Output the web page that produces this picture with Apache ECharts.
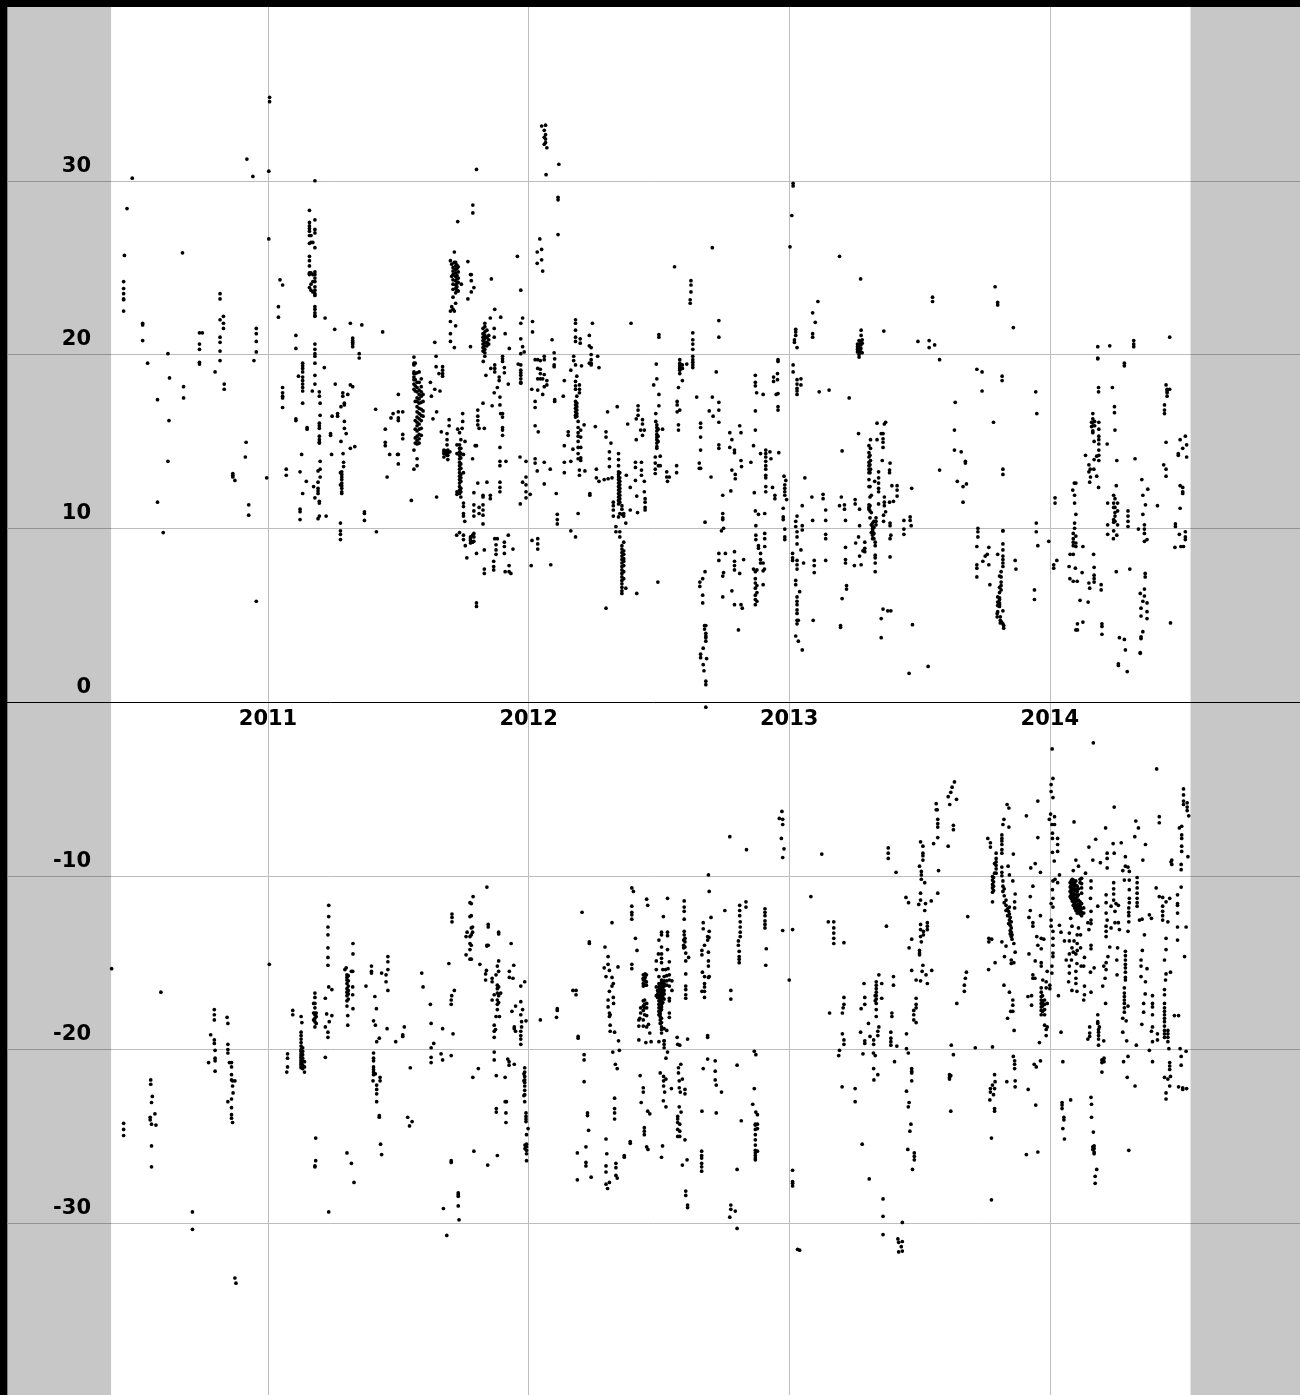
<!DOCTYPE html>
<html><head><meta charset="utf-8">
<style>html,body{margin:0;padding:0;background:#000;}#c{width:1300px;height:1395px;}</style>
<script src="https://cdn.jsdelivr.net/npm/echarts@6/dist/echarts.min.js"></script>
</head><body><div id="c"></div>
<script>
// Each row: [decimal year, value, value, ...].
var yearTicks = [2011, 2012, 2013, 2014];
var valueTicks = [-30, -20, -10, 0, 10, 20, 30];
var shadedSpans = [[2010, 2010.398], [2014.54, 2014.96]];

var upper2010 = [
[2010.479,30.15],[2010.459,28.4],[2010.449,25.7],[2010.446,24.2,23.8,23.5,23.2,23.15,22.5],
[2010.519,21.8,21.7,20.8],[2010.538,19.5],[2010.616,20.05,13.85],[2010.622,18.65],[2010.676,18.15,17.5],[2010.672,25.85],[2010.576,17.4,11.5],[2010.62,16.2],[2010.598,9.75],
[2010.737,21.25,20.6,20.3,19.55,19.45],[2010.748,21.25],
[2010.816,23.5,23.2,22,21,20.7,20.2,19.65],[2010.829,22.2,21.8,21.5],[2010.797,19],[2010.832,18.3,18],
[2010.955,21.5,21.2,20.75,20.15,5.8],[2010.946,19.65],[2010.919,31.25],[2010.942,30.25],
[2010.916,14.95],[2010.913,14.1],[2010.865,13.15,13.05,12.95],[2010.873,12.75],[2010.926,11.35,10.75],[2010.995,12.9]
];
var upper2011 = [
[2011.006,34.8,34.55],[2011.003,30.55,26.65],[2011.046,24.3],[2011.056,24,18.1,17.8,17.6,17.5,16.95],[2011.04,22.75,22.15],[2011.107,21.1,20.35,16.3,16.2],
[2011.159,28.3,27.6,27.4,27.25,27.1,26.85,26.4,25.65,25.4,25.1,24.7,24.65,24.6,23.85],[2011.18,30,27.75,27.2,27,26.15,24.75,24.6,24.4,24.2,23.9,23.7,23.5,23.4,22.75,22.6,22.4,22.25,22.2,20.6,20.3,20.05,19.9,19.5,18.8,18.3],
[2011.165,26.85,26.45,24.7,24.05,23.7],[2011.172,26.45,24.6,24.2,23.6],[2011.17,17.9],
[2011.219,22.1],[2011.256,21.45],[2011.316,21.8,18.25,14.6],[2011.36,21.7],[2011.44,21.3],[2011.325,20.95,20.8,20.7,20.6,20.45,18.15],[2011.35,20.05,19.8],[2011.216,19.25],
[2011.133,19.5,19.35,19.2,19,18.7,18.5,18.3,18.1,17.9,17.2,12],[2011.117,18.75],[2011.15,15.8,15.7],
[2011.197,17.85,17.6,16.05,15.9,15.75,15.3,15.1,14.95,14.9,11.55,11.45,10.7],[2011.2,17.2,16.5,13.85,13.4,12.95],[2011.192,13.3,12.65,12.3,12.15,12,10.55],[2011.175,12.4],[2011.18,11.75],
[2011.258,18.3],[2011.287,17.8,17.6],[2011.306,17.7],[2011.5,17.7,16.7,16.35,16.2,14.25,13.7],[2011.129,14.25],[2011.07,13.4,13.05],[2011.123,13.25,11.1,10.95,10.5],[2011.147,12.7],[2011.223,10.7],
[2011.246,16.45],[2011.267,16.6,16.45],[2011.28,17,15],[2011.293,17.2,17.1,16.15,15.75],[2011.3,15.45],[2011.24,15.45,15.35],[2011.333,14.7],[2011.244,14.25],[2011.288,14.3],[2011.29,13.8,13.55],
[2011.283,13.25,13.1,12.95,12.8,12.6,12.45,12.3,12.1,12],[2011.278,13.2,12.5,10.3,9.85,9.65,9.35],[2011.37,10.95,10.85,10.45],[2011.416,9.8],[2011.413,16.85],
[2011.45,15.7,14.95,14.75],[2011.467,14.25],[2011.497,14.25],[2011.457,12.95],[2011.472,16.35],[2011.48,16.6],[2011.517,16.7,15.4,15.15],[2011.55,11.6],
[2011.56,19.85,19.5,19.4,19,18.9,18.7,18.55,18.3,18,14.5,13.4],[2011.565,19.5,18.9,18.55,18.2,17.9,17.3,16.2,15.7,15.2,14.9],
[2011.572,18.95,18.4,18.1,17.85,17.5,17.3,17,16.7,16.4,16.1,15.9,15.6,15.3,15.05,14.85,14,13.6],
[2011.58,19,18.4,17.95,17.7,17.45,17.2,16.9,16.6,16.3,16,15.7,15.4,15.15,14.9],[2011.588,18.6,18.15,17.85,17.6,17.25,16.85,16.5,16.2,15.75,15.35],[2011.595,17.3,17.7,16.75,16.45],
[2011.645,19.9,19.3],[2011.67,19.3,19.1,18.9,18.75],[2011.656,18.9],[2011.623,18.4],[2011.64,20.7,18],[2011.66,17.9],[2011.627,17.6],[2011.647,16.7,11.8],[2011.633,16.3],[2011.665,15.55],
[2011.695,16.25,15.9],[2011.687,15.45,15.1,14.8,14.2],[2011.675,14.5,14.4,14.3,14.1],[2011.682,14.45,14.3],[2011.69,14.5,14.35,14.2,13.95],[2011.698,14.4],
[2011.728,27.65,15.7],[2011.715,25.9,25.3,22.5,20.4],[2011.7,25.4,22.5,21.9,21.2,20.75],[2011.705,25.2,24.5,22.75],[2011.71,25,24.8,24.6,24.3,24.05,23.75,23.3,22.6],
[2011.72,25.3,25.1,24.9,24.7,24.5,24.25,24,23.8,23.55,22.95,21.65],[2011.725,25.15,24.95,24.55,24.35,24.1,23.9,23.7],[2011.73,25.05,24.75,24.4,24.15,23.65],[2011.742,24.05],[2011.767,25.35,23.2],[2011.777,24.6,20.45,9.5,9.4,9.3,9.15],
[2011.747,16.6,16.15],[2011.745,15.75],[2011.735,15.5,14.8,14.6,14.4,14.2,14,13.8,13.6,13.4,13.2,13,12.8,12.6,12.4,12.2,12],[2011.74,15.1,14.6,14.3,14.05,13.7,13.45,13.1,12.9,12.7,12.3,12.1,11.8],[2011.725,14.8,14.3,12.1,11.95],[2011.75,14.25,13.2,11.25,11.45,10.85,10.7,9.6,9.35],[2011.756,15],[2011.755,10.4],[2011.724,9.6],[2011.735,9.75],[2011.757,9],[2011.763,8.3],
[2011.8,30.65,14.75,8.55,5.7,5.5],[2011.786,28.6,28.15],[2011.78,24.6,24.25,23.6],[2011.79,23.85,12.05,11.35,11,10.7,9.7,9.5,9.25],
[2011.857,24.35],[2011.87,22.6,19.4,9.4],[2011.853,22.1,11.9,11.7],[2011.893,22.15,16.6],[2011.91,21.2,7.5],[2011.926,20.35],[2011.957,25.65],[2011.97,23.7,21.8,20.9,20.05,19.4,19.1,18.95,18.8,18.6,18.4,18.35],[2011.977,22.1,20.45,12.65],[2011.983,20.15],[2011.96,19.45],
[2011.825,21.5,21.2,21,20.8,20.6,20.4,20.2,17.2,11.9,11.8,11.35,11.05,10.75,10.25],[2011.832,21.8,21.6,21.3,21.1,20.9,20.7,20.5,20.3,20.1,19.9],[2011.84,21.4,21,20.7,20.5,12.65],[2011.847,21.1,20.85,20.6],[2011.868,21.5,21,17.8],[2011.826,19.6],[2011.9,19.9,19.75,19.6],[2011.855,19.2],[2011.87,19,19.2],[2011.907,19.25,18.95,9.2,8.95,8.55],[2011.836,18.8],[2011.887,18.7,18.5],[2011.922,18.3,9.6],[2011.89,17.55,17.1,14.65,13.85,13.6,12.65,12.35,12.1],[2011.88,18.1,9.4],
[2011.86,17.05],[2011.805,16.8,16.45,16.2,15.95,12.6],[2011.81,15.75,11.2,10.85],[2011.83,15.75,8.75,7.65,7.4],[2011.9,16.6,16.4,15.8,15.65,15.35],[2011.795,14.75],[2011.913,13.85],[2011.785,14,9.6,9.2],[2011.967,14.1],[2011.99,12.95,12.5,12.1,11.75],[2011.968,11.4],[2011.875,9.05,8.75,8.5],[2011.94,8.8],[2011.866,8.1,7.8,7.6],[2011.925,7.85,7.5],[2011.932,7.4]
];
var upper2012 = [
[2012.05,33.15,26.05,25.45],[2012.065,33.2,32.65,32.4,32.2],[2012.06,32.9,32.5,32.1],[2012.07,31.9],[2012.116,30.95],[2012.067,30.35],[2012.113,29.05,28.9,26.9],[2012.043,26.65],[2012.033,25.9,25.25],[2012.054,24.8],
[2012.015,21.9,21.3],[2012.09,20.85],[2012.025,19.7,17.3,16.95,15.9,14,13.75],[2012.035,19.7,19.2,18.6,17.95,9.4,9.1,8.8],[2012.045,19.65,19.15,18.9,18.6],[2012.06,19.9,19.7,18.85,18.15,13.8,12.55],[2012.07,18.5,18.25],[2012.012,18],[2012.054,18.6,17.7],[2012.098,20.1,19.4,19.3],[2012.1,19.75,17.4,17.3],[2012.137,18.5],[2012.133,17.6],
[2012.18,22,21.8,21.4,21,20.75,19.4,18.45,18.2,18],[2012.198,20.9,20.65],[2012.245,21.8],[2012.233,21.1,20.5,19.5],[2012.24,20.4,20,19.7,19.5,19.4],[2012.173,19.9,19.65],[2012.203,19.35],[2012.162,19.1,13.85,9.85],[2012.185,18.75,17.6],[2012.195,18.25,18,17.8,13.35,13.05],[2012.265,19.9],[2012.27,19.25],
[2012.393,21.8],[2012.5,21.15,21,17.7,17.05],[2012.49,19.45],[2012.492,18.6],[2012.48,18.25],[2012.56,25.05],[2012.705,26.15,17.55],[2012.623,24.25,24,23.6],[2012.62,23.15,22.95],[2012.73,21.95,21,17.25,16.8,16.1,14.8,14.6,8.55,8.15],[2012.63,21.25,20.85,20.6,20.3,19.9,19.7,19.55,19.4,19.25],[2012.72,19],
[2012.58,19.7,19.5,19.4,19.3,19.2,19.1,18.9,16.8],[2012.59,19.4,19.2,18.5],[2012.607,19.45],[2012.575,18.1,15.95,15.65],[2012.645,17.55],
[2012.87,18.8,18.4,18.2,16.75,11,15.65],[2012.875,17.8],[2012.9,17.7],[2012.94,18.7,18.45],[2012.955,18.9,18.55],[2012.95,17.7],[2012.957,19.7,19.6,17.75,17,16.8],
[2011.99,13.85],[2012.037,15.55],[2012.033,13.3],[2012.083,13.4],[2012.106,12],[2012.006,11.95],[2012.11,10.8,10.5,10.25],[2012.19,10.85],[2012.18,9.5],[2012.235,12,11.9],[2012.013,9.3],[2012.01,7.85],[2012.085,7.9],
[2012.18,17.3,17.1,16.9,16.7,16.5,16.4],[2012.185,17.2,17,16.8,16.6,16.45],[2012.19,16.15,15.8,15.5,15.3,15,14.65,14.3,14],[2012.2,15.65,15.25,14.65,14.05,13.9],[2012.213,15.95],[2012.256,15.85],[2012.137,14.75,13.8,13.2],[2012.17,14.55],[2012.152,15.55,15.35],[2012.216,13.3],
[2012.303,16.7],[2012.34,17],[2012.297,15.55,15.25,5.4],[2012.316,14.9],[2012.31,14.4,14,13.55],[2012.26,13.4,12.9],[2012.27,12.7],[2012.29,12.8],[2012.305,12.85],[2012.32,12.9],[2012.325,11.5,11.3,11.05,10.7],
[2012.345,14.3,13.95,13.6,13.25,13.1,12.95,12.8,12.6,12.4,12.2,12,11.8,11.6,11.4,10.65],[2012.35,13.2,12.9,12.7,12.5,12.3,12.1,11.9,11.7,11.5,10.85,9.8,9.5],[2012.358,11.3,11.1,10.8,9,8.8,8.6,8.4,8.2,8,7.8,7.6,7.4,7.2,7,6.8,6.6,6.4,6.25],[2012.365,10.85,10.7,9.2,8.7,8.5,8.25,8.1,7.85,7.5,7.1],[2012.373,10.3,6.55],[2012.335,10.1,9.8],
[2012.38,16],[2012.375,13.05],[2012.39,12.35,11.05],[2012.41,13.8,13.5,12.75],[2012.433,13.8,13.35,13.05],[2012.444,12.7,12.1],[2012.415,11.85,6.25],[2012.447,11.7,11.5,11.2,11.05],[2012.418,10.9],[2012.496,6.9],
[2012.42,17.05,16.8,16.5],[2012.413,16.3,15.1],[2012.437,16.25,16,15.35],[2012.43,15.65],[2012.444,15.65],
[2012.488,16.6,16.15],[2012.492,15.95,15.8,15.6,15.4,15.25,15.1,14.9,14.7,14.6],[2012.497,15.7,15.3,15],[2012.514,15.7],[2012.505,14.15],[2012.486,14.1,13.75,13.4,13.15],[2012.505,13.6],[2012.498,13.6],[2012.53,13.25,12.95],[2012.533,12.7],[2012.54,12.95],[2012.568,13.6,13.2],[2012.57,17.3,17.1,16.7],
[2012.693,16.75],[2012.708,16.45],[2012.66,16.05,15.8,15.25,14.5],[2012.655,13.75,13.45],[2012.66,13.45],[2012.7,12.95],[2012.745,11.9,10.85,10.6,10.5,7.25,6.05],[2012.776,12.15],[2012.677,10.35,7.5],[2012.748,10,7.45],[2012.74,9.85],
[2012.81,15.9,7.4],[2012.815,15.5,13.9,5.6],[2012.772,15.5,14.65],[2012.78,15.1,13.35,6.4],[2012.79,14.5,14.35,8.65,8.1,7.85,7.6,5.6],[2012.793,13.1,12.85],[2012.817,13.55],[2012.853,13.8],[2012.863,14.75,7.65],
[2012.89,14.3,8.55,8.2,8],[2012.91,14.5,14.3,14.1,13.85,13.6,13.4,13.05,12.9,12.4,12.1],[2012.926,14.4],[2012.93,14],[2012.96,14.35],[2012.936,12.35],[2012.866,12.05],[2012.945,11.9,11.7],[2012.882,10.8,9,8.85],[2012.906,10.85,9.7,9.4,8.95],[2012.872,10.15,9.6,9.35],
[2012.98,13],[2012.987,12.75],[2012.983,12.5,12.3,12.1,11.9,9.95,9.5,9.35],[2012.99,11.65],[2012.977,11.15,10.65,10.5],
[2012.668,7.1,6.15,5.7],[2012.657,6.9,6.65],[2012.675,4.4,4.2],[2012.68,4.4,3.95,3.8,3.7,3.5,1.2,1],[2012.67,3.1,2.15],[2012.66,2.75,2.55],[2012.683,2.5],[2012.673,1.8],[2012.68,-0.3],
[2012.755,8.55],[2012.825,8.2],[2012.82,5.4],[2012.805,4.15],[2012.87,7.5,7.1,6.85,6.55,6.15,5.9,5.6],[2012.876,7.6,6.7,6.3,5.8],[2012.9,8,7.55,6.75],[2012.905,7.65]
];
var upper2013 = [
[2013.015,29.85,29.7,19.4,19],[2013.01,28],[2013.003,26.2],[2013.11,23.05],[2013.09,22.4,21.2,21,10.45],[2013.1,21.85],[2013.025,21.45,21.3,21.1,10.4,10.1,7,6.75,3.8],[2013.02,20.85,20.7],[2013.03,20.4,18.55,18.3,18.05,17.9,17.7,9.8,9.5,9.1,6.05,5.8,5.6,5.3,5.1,4.7,4.5],[2013.045,18.6,18.25,8.75],[2013.115,17.85],[2013.153,17.95],
[2013.06,12.9],[2013.087,11.8],[2013.05,11.3,10.15,9.9,3],[2013.13,11.95,11.7],[2013.14,11.05,10.45,9.65,9.4,8.15],[2013.096,8.15,7.85,7.45],[2013.092,4.7],[2013.013,8.55,8.3,8.15],[2013.03,10.7,8.15,7.9,7.65],[2013.055,8],[2013.04,6.35],[2013.035,4.7,3.5],
[2013.193,25.65,11.3],[2013.274,24.35],[2013.276,21.4,21.1,7.9],[2013.363,21.35],[2013.262,20.6,20.45,20.3,20.15],[2013.268,20.8,20.6,20.4,20.2,20,19.85],[2013.275,20.75,20.55,20.35,20.15],[2013.28,20.85,20.65,20.1],[2013.494,20.75],[2013.537,20.8,20.4],[2013.558,20.55],[2013.577,19.7,13.35],[2013.55,23.3,23.05],[2013.79,23.9],[2013.8,23,22.85,8.5],[2013.86,21.55],[2013.72,19.15],[2013.74,19,17.9],[2013.817,18.75,18.5],[2013.946,17.85],[2013.23,17.5],
[2013.637,17.25],[2013.634,15.65,14.5],[2013.66,14.4],[2013.676,13.85,13.75],[2013.645,12.7],[2013.667,12.4,11.5],[2013.68,12.55],[2013.784,16.1],[2013.82,13.4,13.1,9.85,9.1,8.75,8.4,8.2,8,7.8,4.5],[2013.95,16.6],[2013.948,10.3,9.8],[2013.954,9],[2013.996,9.25],[2013.941,6.45,5.9],
[2013.203,14.45,5.95],[2013.266,15.45,9.5],[2013.2,11.8],[2013.212,11.35,11.1],[2013.253,11.65,11.4],[2013.27,11.1,10.15,8.4],[2013.216,10.45,8.9,8.2,8],[2013.255,9.15],[2013.25,7.85],[2013.29,9.2,8.85,8.65],[2013.283,8.7],[2013.22,6.7,6.5],[2013.197,4.4,4.3],
[2013.312,15.1,14.6,13.9,13.4],[2013.306,14.75,14.35,14.1,13.8,13.6,13.4,13.2,12.8,12.4,11.35,11.2,11.1],[2013.31,14.2,13.65,13.2,12.4,11.8,11.3,11,10.6],[2013.315,11.9,10.9,10.2,9.75],[2013.32,10.3,10,9.8,9.6,9.4,10.1,9.9],[2013.325,10.4,10.05,9.7,9.4],[2013.33,9.2,9,8.45,8.3,8,7.5],
[2013.337,16.05,15.1],[2013.353,15.45,4.8,3.7],[2013.36,15.45,15.15,14.95,14.65,5.35],[2013.37,16.1,10.95],[2013.365,16,11.8,11.5,11.3],[2013.357,13.9],[2013.387,13.75,10.3,10.15],[2013.385,13.35,13.2],[2013.343,13.25,12.9,12.6,12.3,12.1],[2013.328,12.7],[2013.394,12.45],[2013.414,12.45,12.2,11.85],[2013.4,11.55],[2013.385,11.5],[2013.343,11.4],[2013.362,10.75,10.4],[2013.333,10.6,10.2,10.4],[2013.39,9.6],[2013.387,9.4,8.35],[2013.378,5.25],[2013.39,5.25],
[2013.473,4.45],[2013.46,1.65],[2013.533,2.05],[2013.44,10.45,9.95,9.65],[2013.464,10.65,10.45],[2013.468,10.15],[2013.47,12.3],
[2013.724,10,9.8,9.5],[2013.72,8.95,7.9,7.7,7.2],[2013.766,8.9,7.9],[2013.76,8.5],[2013.752,8.4],[2013.743,8.1],[2013.77,6.75],[2013.82,9.85],[2013.813,7.5,7.2,6.9,6.7,6.45],[2013.807,7.25,6.6,6.3,6,5.9,5.7,5.6,5.5],[2013.8,6.05,5.75,5.55,5.2],[2013.798,5.1,4.9],[2013.82,5.25],[2013.81,4.9,4.7,4.55],[2013.823,4.25,4.4],[2013.815,4.6],[2013.867,8.15],[2013.87,7.65]
];
var upper2014 = [
[2014.184,20.45,19.8,19.75],[2014.23,20.5],[2014.322,20.8,20.6,20.45],[2014.46,21],[2014.286,19.5,19.35],[2014.187,18.1,17.85],[2014.24,18.1],[2014.446,18.25],[2014.45,18,17.9,17.8,17.6],[2014.46,18],
[2014.02,11.75,11.45],[2014.027,8.15],[2014.015,7.9,7.7],
[2014.1,12.6,10.8],[2014.094,12.6],[2014.088,12.2],[2014.095,11.9,11.45,10.3,10],[2014.09,9.7,9.4,9.2,9,6.95],[2014.1,9.55,9.15,8.95],[2014.127,8.95,4.6],[2014.078,8.5],[2014.09,8.5],[2014.168,8.5],[2014.074,7.8],[2014.098,7.7],[2014.17,7.75,7.3,7.1,6.9],[2014.124,7.45],[2014.077,7.1],[2014.105,6.95],[2014.15,6.85],[2014.153,6.55],[2014.197,6.75,6.45],[2014.116,5.85],[2014.147,5.75],[2014.106,4.5,4.15],[2014.1,4.15],[2014.2,4.5,4.35,3.9],
[2014.165,16.6,16.3,16.1,15.9,15.6,15.5],[2014.16,16.1,15.85],[2014.172,16.15,15.9],[2014.188,16.1,15.7,15.3,15.1,14.85,14.5,14.2,13.9],[2014.17,15,13.95],[2014.22,14.85],[2014.137,14.2],[2014.15,13.65,13.25],[2014.155,13.4],[2014.169,13.4],[2014.18,14.15,13],[2014.156,12.95],[2014.153,12.65],[2014.187,12.35],
[2014.248,17,16.65],[2014.25,15.65],[2014.257,13.9],[2014.327,14],[2014.255,12.45,7.5],[2014.222,11.45,10.2,9.65],[2014.245,11.9,11.45,11.2,10.5,10.35,9.85],[2014.25,11.7,11.2,10.9,10.7,10.4],[2014.26,11.45,11,10.2],[2014.244,9.4],[2014.257,9.6],
[2014.3,11,10.7,10.4,10.1],[2014.34,9.95],[2014.363,10.2,9.95,9.7,9.25,6.5,6.1],[2014.373,9.35],[2014.353,12.8],[2014.376,12.25],[2014.357,11.9,10.8,5.8,4.05],[2014.367,11.35],[2014.413,11.3],[2014.307,7.65],[2014.366,7.4,7.2],[2014.347,6.25,2.85,2.8],[2014.373,5.7,5.2,4.8],[2014.35,5.4,4.95,3.75,3.65],[2014.267,3.7],[2014.286,3.6],[2014.29,3],[2014.263,2.2,2.1],[2014.297,1.75],[2014.463,4.55],
[2014.44,17.1,16.8,16.6],[2014.446,14.95,13.4,13],[2014.437,13.65],[2014.482,10.25,10.1],[2014.497,9.65],[2014.52,9.8,9.5,9.35],[2014.503,8.95],[2014.48,8.9],[2014.513,8.95],[2014.5,15.1,12.45,11.15],[2014.52,15.3],[2014.525,14.8,14.1],[2014.493,14.3,14.2],[2014.51,14.6,12.35,12,12.1]
];
var lower2010 = [
[2010.4,-15.35],[2010.589,-16.7],[2010.794,-17.7,-18,-18.3,-19.45,-19.65],[2010.843,-18.15],[2010.846,-18.5,-19.7,-20,-20.2,-23],
[2010.78,-19.15],[2010.797,-20.05,-20.5,-20.65,-21.25],[2010.772,-20.75],[2010.852,-20.75],[2010.86,-20.75,-21,-21.45,-21.75,-22.85,-23.35,-23.75,-23.95],[2010.864,-21.8,-22.1,-24.2],[2010.873,-21.8,-33.15],[2010.866,-22.5],
[2010.55,-21.75,-22],[2010.556,-22.7],[2010.553,-23.05,-24.3,-25.55,-26.75],[2010.566,-23.7],[2010.548,-23.9,-24.05],[2010.57,-24.35],[2010.446,-24.25,-24.6,-24.95],[2010.71,-29.35,-30.35],[2010.877,-33.45]
];
var lower2011 = [
[2011.005,-15.1],[2011.233,-11.7,-12.35,-16.4,-29.35],[2011.23,-12.95,-13.4,-14.15,-14.7,-15.15,-19,-19.3],[2011.326,-13.9,-14.5],
[2011.3,-15.3],[2011.295,-15.4],[2011.303,-15.7,-15.85,-16,-16.2,-16.5,-16.7,-16.9,-17.2,-17.5,-25.95],[2011.308,-15.75,-16.05,-16.35,-16.6,-16.8,-17.1],[2011.32,-15.5,-26.55],[2011.325,-16.4,-16.85,-15.5],[2011.306,-18.05,-18.6],[2011.326,-17.65],
[2011.245,-16.55],[2011.22,-17.05,-20.45],[2011.18,-16.75,-17,-17.35,-17.6,-17.9,-18,-18.2,-18.4,-18.7],[2011.175,-17.35,-17.9,-18.3],[2011.185,-17.9,-18.1,-18.5],[2011.095,-17.75,-18],[2011.127,-18.1],[2011.13,-18.45],[2011.225,-17.95],[2011.245,-18.05],[2011.235,-18.4],[2011.22,-18.7],
[2011.397,-15.2,-15.5,-15.6],[2011.436,-15.6],[2011.453,-15.7,-16.1],[2011.46,-14.65,-14.95,-15.4,-16.6],[2011.376,-16.35],[2011.41,-16.95],[2011.416,-17.65],[2011.405,-18.35,-20.2,-20.5,-20.65],[2011.412,-18.6],[2011.457,-18.8],[2011.523,-18.7],
[2011.59,-15.6],[2011.595,-16.4],[2011.623,-17.4],[2011.626,-18.5,-19.9,-20.45,-20.75],[2011.67,-18.8,-20.6],[2011.694,-15.05],[2011.706,-12.2,-12.4,-12.65],[2011.715,-16.6],[2011.705,-16.9],[2011.703,-17.15,-17.4,-20.35,-26.4,-26.5],
[2011.775,-11.55,-12.35,-13.5,-13.9,-14.25,-14.8],[2011.764,-13.25],[2011.76,-13.5,-14.55],
[2011.075,-20.25,-20.5,-21],[2011.072,-21.3],
[2011.127,-19,-19.2,-19.4,-19.6,-19.8,-20,-20.1,-20.25,-20.35,-20.45,-20.55,-20.65,-20.75,-20.85,-20.95,-21.05],[2011.133,-19.9,-20.1,-20.3,-20.5,-20.7,-20.9,-21.1],[2011.14,-20.7,-21,-21.3],
[2011.405,-21,-21.15,-21.3,-21.45],[2011.412,-21.4],[2011.43,-21.6,-21.8],[2011.403,-21.8],[2011.417,-22.05,-22.3,-22.55,-23,-19.55],[2011.427,-23.8,-23.9,-19.35],[2011.432,-25.45],[2011.436,-26.05],[2011.33,-27.65],
[2011.183,-25.1,-26.4],[2011.18,-26.7,-26.75],[2011.546,-21.05],[2011.536,-23.9],[2011.553,-24.15],[2011.543,-24.4],[2011.49,-19.55],[2011.517,-19.15,-19.25],[2011.636,-19.65],[2011.664,-20.25],[2011.71,-19.1],[2011.73,-28.25,-28.35,-28.45,-29],[2011.673,-29.15],[2011.733,-29.8],[2011.686,-30.7],
[2011.84,-10.65],[2011.787,-11.2],[2011.845,-12.8,-12.95],[2011.885,-13.25,-13.35,-14.9],[2011.84,-14,-14.05],[2011.845,-14],[2011.933,-13.9],[2011.78,-11.6,-12.3,-13,-13.4,-14,-14.8],[2011.785,-12.95,-13.25],
[2011.813,-15.1],[2011.838,-15.45],[2011.835,-15.65,-16],[2011.88,-15.2,-16.3,-16.5,-16.75,-17.15,-17.4,-17.7],[2011.885,-15.5,-16.4,-16.9,-17.3],[2011.875,-15.7,-18.1],[2011.86,-15.9,-16.1],[2011.893,-16.75],[2011.868,-16.85,-18.6,-20.15,-20.6,-18.95,-19.3],[2011.86,-17.15],[2011.943,-15.15],[2011.926,-15.5,-15.85],[2011.94,-15.9],[2011.888,-18.1],[2011.873,-18.85],[2011.945,-18.7,-18.8],
[2011.985,-16.1,-21.05,-21.3,-21.55,-21.75,-21.9,-22.1,-22.35,-22.6,-23],[2011.97,-16.35,-17.25,-18,-18.95,-19.2,-19.4,-19.7],[2011.977,-17.7],[2011.95,-17.5,-18.95],[2011.936,-17.8],[2011.99,-18.35,-23.65,-23.85,-24,-24.15],[2011.973,-18.4,-18.7],[2011.982,-21.4,-21.8,-22.65],
[2011.92,-20.55],[2011.925,-20.7,-20.9],[2011.945,-20.85],[2011.807,-21.1],[2011.786,-21.6],[2011.876,-21.5,-23.4,-23.6],[2011.91,-21.6,-23],[2011.915,-23],[2011.913,-23.65,-24.2],[2011.79,-25.85],[2011.88,-26.1],[2011.843,-26.65],[2011.998,-24.55],[2011.992,-24.9,-25.45,-25.6,-25.8,-26,-26.4],[2011.986,-25.5,-25.7]
];
var lower2012 = [
[2012.205,-12.1],[2012.233,-13.8,-13.9],[2012.293,-14.1],[2012.32,-12.7,-15.85,-16.35],[2012.305,-14.65,-15.1,-17.15,-17.55],[2012.29,-15.3],[2012.31,-15.45,-16.65,-17.9,-18.1],[2012.343,-15.25],[2012.297,-15.8,-25.15,-26.7,-27.05,-27.75],[2012.325,-17,-16.2],[2012.326,-17.35],[2012.313,-18,-18.6,-18.95],[2012.17,-16.6],[2012.182,-16.6,-16.85],[2012.11,-17.65,-17.75],[2012.107,-18.15],[2012.045,-18.3],
[2012.396,-10.7,-11.75,-12.1,-12.25,-12.5,-15.1,-15.35],[2012.402,-10.9],[2012.41,-13.6],[2012.416,-14.3],[2012.453,-11.35],[2012.457,-11.7],[2012.533,-11.3,-13.25,-13.45,-14.25],[2012.517,-12.35],[2012.51,-13.25,-13.4,-14.1],[2012.5,-13.7],[2012.498,-14.5],[2012.51,-14.5,-14.75,-15],[2012.49,-14.9,-15.4],[2012.54,-14.95],[2012.515,-15.4],[2012.525,-15.4],[2012.535,-15.35],
[2012.44,-15.7,-15.9,-16,-16.2,-16.35],[2012.447,-15.65,-15.85,-16.05,-16.3],[2012.452,-15.7,-16.1,-16.3],
[2012.49,-16.4,-16.9],[2012.495,-16.6,-16.8,-17],[2012.5,-15.8,-16.2,-16.4,-16.55,-16.7,-16.85,-17,-17.2,-17.4,-17.6,-17.8,-18],[2012.505,-16.3,-16.45,-16.6,-16.75,-16.9,-17.05,-17.2,-17.35,-17.5,-17.65,-17.8,-17.95,-18.1,-18.3,-18.5],[2012.51,-16,-16.15,-16.3,-16.5,-16.65,-16.8,-16.95,-17.1,-17.25,-17.4,-17.55,-17.7,-18.2,-18.45],[2012.515,-16.1,-16.25,-16.4,-16.55,-16.7,-16.85,-17,-17.3],[2012.52,-15.8,-16.05,-16.2,-16.35,-16.6,-16.8,-17.1],[2012.53,-15.75,-16.05,-16.3],[2012.54,-15.7,-16,-17.05,-17.2,-17.9,-18.15],[2012.55,-16.05,-16.6],[2012.54,-16.35],
[2012.51,-18.7,-18.85,-19.05],[2012.52,-18.8,-19.5,-19.7],[2012.53,-18.9],[2012.427,-18.2],[2012.43,-17.6,-17.9],[2012.44,-17.2,-17.5,-17.75,-18.3,-18.65],[2012.445,-17.15,-17.4,-17.6,-18],[2012.453,-17.35,-17.6,-18.05,-18.7],[2012.46,-18.55],[2012.423,-18.3,-18.65,-19.45],
[2012.597,-11.45,-11.8,-12.05,-12.5,-13.2,-13.4],[2012.595,-13.7,-14,-14.15],[2012.6,-13.6,-13.8,-14.1],[2012.603,-14.45,-14.9,-15.65,-16.35,-16.55,-16.85,-17.05,-28.15,-28.4],[2012.614,-14.7],
[2012.67,-12.7,-13.05],[2012.7,-12.4],[2012.693,-13.2],[2012.687,-13.5,-13.7],[2012.692,-13.55],[2012.675,-14],[2012.665,-14.3,-14.55],[2012.69,-14.4,-14.9,-15.2,-15.85],[2012.667,-15.55],[2012.675,-15.8,-16.2,-16.4,-16.65,-17],[2012.693,-15.8],[2012.665,-16.65],[2012.69,-9.95],[2012.693,-10.9],
[2012.772,-7.75],[2012.836,-8.5],[2012.753,-12],[2012.81,-11.7,-12,-12.3],[2012.834,-11.5,-11.8],[2012.812,-12.65,-12.95,-13.25,-13.5],[2012.805,-13.75,-14],[2012.808,-14.35,-14.65,-14.8,-15],
[2012.907,-11.9,-12.1,-12.3,-12.6,-12.8,-13],[2012.912,-14.2],[2012.91,-15.15],[2012.776,-16.6,-17.1],[2012.972,-6.3],[2012.962,-6.7],[2012.975,-6.75,-7.05],[2012.97,-7.85],[2012.98,-8.45],[2012.975,-8.95,-13.15],
[2012.19,-19.25,-19.35],[2012.213,-20.3,-20.6,-21.85],[2012.226,-23.65,-23.8],[2012.23,-24.65],[2012.22,-25.6,-26.5,-26.7],[2012.187,-25.95,-27.5],[2012.24,-27.35],
[2012.33,-19,-22.8,-23.4,-23.65,-24],[2012.345,-19.5],[2012.323,-20.15],[2012.348,-20.05],[2012.333,-20.85],[2012.34,-21.1,-27.4],[2012.3,-26],[2012.335,-26.55,-26.8,-27.25],[2012.31,-27.65],[2012.303,-28],[2012.367,-26.1,-26.2],[2012.39,-25.3,-25.4],
[2012.45,-19.6],[2012.47,-19.55],[2012.465,-19.05],[2012.428,-21.5],[2012.44,-22.2,-22.45],[2012.432,-23.05],[2012.457,-23.55],[2012.465,-23.7],[2012.444,-24.5,-24.7,-24.9],[2012.453,-25.6],[2012.458,-25.75],[2012.514,-25.55],[2012.51,-26.2],
[2012.5,-19.55],[2012.52,-19.5,-19.9],[2012.533,-20.15],[2012.527,-20.5],[2012.57,-19.3],[2012.572,-19.7],[2012.58,-19.75],[2012.61,-19.4],
[2012.505,-21.35],[2012.518,-21.55,-21.8,-22.1],[2012.527,-21.7],[2012.548,-22.25],[2012.522,-22.45],[2012.517,-22.95],[2012.527,-23.3],
[2012.575,-21.05,-21.35],[2012.584,-20.85],[2012.578,-21.8,-22.2,-23.3],[2012.59,-21.7],[2012.582,-22.45],[2012.6,-22.3,-22.55],[2012.585,-23.6],[2012.572,-23.85,-24,-24.2,-24.6,-25],[2012.58,-24.3,-24.7,-25],[2012.6,-25.2],[2012.608,-26.35],[2012.59,-26.65],[2012.61,-28.95,-29.1],
[2012.687,-19.2,-19.3,-20.55],[2012.67,-21.1],[2012.716,-20.65,-21.25,-21.75],[2012.72,-22.05,-23.65],[2012.74,-22.45],[2012.665,-23.55],[2012.664,-25.85,-26.1,-26.25,-26.55,-26.75,-27],[2012.816,-24.1],[2012.8,-20.9,-26.9,-30.3],[2012.866,-20.1],[2012.872,-20.3,-23.6],[2012.866,-22.25],[2012.86,-23.15],[2012.878,-23.75],
[2012.87,-24.3,-24.35,-24.6,-24.9,-25.2,-25.5,-25.8,-25.95,-26.1,-26.25,-26.35],[2012.878,-24.55,-25.85,-24.3],[2012.776,-28.95,-29.2],[2012.793,-29.3],[2012.772,-29.65]
];
var lower2013 = [
[2013,-16],[2013.125,-8.75],[2013.083,-11.2],[2013.15,-12.65],[2013.013,-13.1,-26.95,-27.6,-27.7,-27.85],[2013.155,-17.9],[2013.032,-31.5],[2013.04,-31.55],
[2013.41,-9.8],[2013.38,-8.4,-8.7,-9],[2013.171,-12.65,-13,-13.3,-13.6,-13.9],[2013.21,-13.85,-17,-17.4,-19.45,-19.7],[2013.373,-12.9],[2013.448,-11.25],[2013.458,-11.55],[2013.57,-11,-6.75,-7,-7.2,-7.8],[2013.573,-9.7],
[2013.634,-4.6],[2013.625,-4.9],[2013.62,-5.2],[2013.61,-5.45,-8.3],[2013.642,-5.6],[2013.616,-5.9],[2013.564,-5.85,-6.2],[2013.568,-6.2],[2013.63,-7.1,-7.35],[2013.554,-8.15],
[2013.504,-8.05,-12.8,-13.1,-13.5,-11,-11.4],[2013.513,-8.3,-8.7,-8.85,-9.1,-15.15],[2013.5,-9.45,-14.3,-14.45,-14.55],[2013.507,-9.75,-9.95,-10.2,-13.8],[2013.52,-10.4,-12],[2013.497,-11.65],[2013.523,-11.6],[2013.545,-11.45],[2013.53,-12.7,-12.9,-13.1,-16.2],[2013.515,-13.2,-13.4],[2013.47,-13.65,-15.45],[2013.46,-14.15],[2013.51,-15.5],[2013.547,-15.45],[2013.525,-15.7],[2013.487,-16,-17.05,-17.4,-17.6],[2013.504,-16.05],
[2013.685,-12.35],[2013.676,-15.9],[2013.68,-15.55],[2013.672,-16.3,-16.65],[2013.643,-17.35],
[2013.344,-15.7,-18.7],[2013.287,-16.2],[2013.334,-16.1,-16.3,-16.5,-16.7,-16.9,-17.1,-17.35,-17.7,-18.1],[2013.33,-16.9,-17.2],[2013.355,-16.2,-17.05],[2013.4,-15.8,-16.3],[2013.29,-17,-17.4,-19.5,-19.65],[2013.276,-17.65],[2013.394,-17.9,-18.1],[2013.304,-18.5],
[2013.207,-17.6],[2013.204,-17.9,-19.1],[2013.478,-17.75,-18,-18.3],[2013.487,-18.45],
[2013.836,-5.9],[2013.843,-6.1,-7.2],[2013.824,-6.75,-16.3],[2013.82,-7.05],[2013.816,-7.65,-7.85,-8,-8.2,-8.5,-8.7,-9.5,-9.8,-10,-13.8],[2013.762,-7.85],[2013.772,-8.1,-8.35],[2013.794,-8.7,-9,-9.2,-9.4,-9.6,-9.85],[2013.86,-8.75],[2013.788,-9.85,-9.3],[2013.78,-10.25,-10.5,-10.7,-10.95,-11.5,-10.05],[2013.784,-10.1,-10.35,-10.6,-10.85],
[2013.82,-10.3,-10.6,-10.9],[2013.84,-9.45],[2013.845,-9.95,-11.8,-12.2,-12.55,-16.7],[2013.858,-10.3,-17.15,-17.45,-17.8],[2013.867,-11.05,-14.4],[2013.832,-11.4,-11.7,-12,-14.05],[2013.838,-11.9,-12.3,-18.2],[2013.865,-11.5,-11.85],[2013.852,-12.65,-13,-13.25,-13.5,-14.85,-15.05],[2013.862,-13.9,-15],[2013.766,-13.6,-13.8],[2013.777,-13.65],[2013.826,-14.65],[2013.79,-15],[2013.765,-15.4],[2013.85,-17.8],
[2013.825,-11.15,-10.75,-11.55],[2013.842,-12.75,-12.05],[2013.848,-12.4,-12.85,-13.15,-13.35],[2013.855,-13.65,-13.4],
[2013.91,-6.55],[2013.954,-5.7,-7.8,-14],[2013.944,-9.3,-14.9],[2013.927,-9.55],[2013.964,-9.8,-12.3],[2013.935,-10.6,-12.7,-12.9,-15.7,-15.9],[2013.925,-11.2,-12],[2013.92,-12.4,-14.5],[2013.95,-13.5],[2013.967,-13.6,-14.2,-15,-15.2],[2013.977,-13.65],[2013.943,-15.9],[2013.973,-16],[2013.916,-16.95],[2013.93,-16.9,-17.45],
[2013.967,-16.45,-16.7,-16.95,-17.15,-17.35,-17.55,-17.75,-18],[2013.972,-16.9,-17.25,-17.5,-17.8],[2013.98,-17.15,-17.4,-17.7,-18,-18.6],[2013.99,-17.35,-15.5,-18.7],[2013.986,-16.1,-16.45,-18.85,-19.2],
[2013.193,-20.05],[2013.19,-20.35],[2013.274,-19],[2013.31,-19.25],[2013.324,-19.45,-19.7,-21.1],[2013.34,-18.95,-19.2,-21.45],[2013.39,-19,-19.35,-19.55,-19.75],[2013.413,-19.8],[2013.45,-19.1,-19.95,-22.4],[2013.457,-20.2],[2013.404,-20.7],[2013.283,-20.25],[2013.323,-20.2],[2013.33,-20.35],[2013.325,-21.75],[2013.203,-22.15],[2013.253,-22.25,-23],[2013.28,-25.45],[2013.307,-27.45],[2013.36,-28.6,-29.6,-30.65],[2013.434,-29.95,-31.05,-31.6],[2013.417,-30.9],[2013.42,-31.1,-31.65],[2013.43,-31.35],
[2013.47,-21.1,-21.25,-21.35,-21.8],[2013.46,-23.05],[2013.457,-23.3],[2013.467,-24.3],[2013.463,-24.7],[2013.455,-25.75],[2013.48,-25.95,-26.15,-26.35],[2013.473,-26.9],
[2013.622,-19.75],[2013.63,-20.3],[2013.714,-19.9],[2013.78,-19.85],[2013.615,-21.45,-21.6,-21.7],[2013.62,-21.5,-23.55],[2013.863,-18.9],[2013.86,-20.4],[2013.865,-20.65,-20.85,-21.1],[2013.94,-20.85],[2013.948,-21],[2013.964,-20.65],[2013.96,-19.6],[2013.835,-21.85],[2013.867,-21.8,-22.15],[2013.917,-22.3],[2013.946,-23.2],[2013.91,-26.05],[2013.954,-25.9],[2013.776,-25.1,-28.65],
[2013.788,-21.45,-22.25,-23.4,-23.55],[2013.79,-21.85],[2013.78,-22.05],[2013.772,-22.25,-22.45],[2013.784,-22.6],[2013.77,-22.9]
];
var lower2014 = [
[2014.009,-2.7],[2014.012,-4.4,-5.5,-10.3,-11.3,-11.8,-13.2,-13.6,-14,-14.45,-14.65],[2014.005,-4.75,-5.15,-11.6,-12.55,-12.9],[2014.003,-6.45],[2013.998,-6.75],[2014.018,-6.6,-7.05],[2014.008,-7.05,-15.2,-15.6],[2014.01,-7.55,-7.85,-8.65,-10.8],[2014.03,-7.85,-8.2,-8.6,-10.4],[2014.017,-9.15],[2014.037,-9.95,-12.85],[2014.043,-13.25],[2014,-16.3,-16.5],[2014.033,-16.9],[2014.02,-10.2],
[2014.093,-6.9],[2014.167,-2.35],[2014.41,-3.85],[2014.247,-6.05,-8.7],[2014.214,-7.25,-17.35],[2014.176,-7.9],[2014.15,-8.35],[2014.1,-9.1],[2014.165,-9.1],[2014.194,-9.25],[2014.243,-8.15],[2014.274,-8.1],[2014.22,-8.7,-9,-9.55,-12.55],[2014.29,-8.9],[2014.367,-8.2,-16.1],[2014.357,-9.1],[2014.326,-7.75],[2014.33,-6.85],[2014.34,-7.25],[2014.42,-6.6,-6.95,-11.2],[2014.465,-9.2],[2014.504,-9.35,-9.65],[2014.09,-9.7],[2014.11,-9.45],[2014.137,-9.85],
[2014.078,-10.4,-10.65,-10.9,-11.2],[2014.082,-10.3,-10.55,-10.8,-11.05,-11.3],[2014.086,-10.2,-10.45,-10.7,-10.95,-11.2,-11.45],[2014.09,-10.25,-10.5,-10.75,-11,-11.25,-11.5,-11.7],[2014.095,-10.4,-10.6,-10.85,-11.1,-11.35,-11.6,-11.85],[2014.1,-10.3,-10.55,-10.8,-11.05,-11.3,-11.5,-11.75,-12],[2014.105,-10.6,-10.9,-11.2,-11.45,-11.7,-11.95,-12.15],[2014.11,-10.75,-11.1,-11.4,-11.65,-11.85,-12.1],[2014.116,-10.2,-10.4,-11.5,-11.75,-12,-12.2],[2014.122,-10.15,-10.45,-10.7,-11,-11.6,-11.9,-12.1,-12.3],[2014.13,-11.85,-12.15],
[2014.158,-10.3,-10.7,-12.05,-12.55,-12.75,-14,-14.2,-16.7],[2014.156,-11.3,-15.55],[2014.184,-11.75,-18,-18.4,-18.5],[2014.146,-12.7],[2014.15,-13.1],
[2014.08,-12.45],[2014.085,-12.9,-14.15,-16.6],[2014.075,-13.3,-13.75,-15.2],[2014.11,-13],[2014.105,-13.4,-13.9,-14.3],[2014.118,-13.4,-14.15],[2014.056,-13.75],[2014.093,-13.75],[2014.1,-14.5,-15.5,-15.9,-16.2],[2014.09,-14.4],[2014.075,-14.5],[2014.083,-14.85],[2014.063,-14.85],[2014.133,-14.7,-16.35,-16.85],[2014.12,-15.2],[2014.104,-15.05],[2014.13,-15.2],[2014.075,-15.6],[2014.072,-16.1],[2014.17,-15.3],[2014.104,-16.65],[2014.13,-17.15],
[2014.216,-11.1,-11.55,-12.15,-12.9,-13.2,-13.5,-15,-15.4],[2014.245,-10.4,-10.75,-11.05,-11.4],[2014.235,-11.75],[2014.254,-11.6],[2014.263,-11.7],[2014.25,-12.05,-12.7],[2014.263,-12.7],[2014.235,-13],[2014.267,-13.1],[2014.23,-14.1],[2014.26,-14.15],[2014.223,-14.65],[2014.207,-15.2],[2014.212,-15.9],[2014.203,-16.35],[2014.257,-14.85],[2014.258,-15.7],
[2014.29,-9.45],[2014.3,-9.5,-13.2],[2014.28,-9.7],[2014.286,-10.25],[2014.305,-9.75,-10.25,-10.8,-11.3,-11.55],[2014.303,-11.85,-12.1,-12.3,-12.65],[2014.335,-10.1,-10.4,-10.7,-11,-11.3,-11.55,-11.75],[2014.408,-10.7],[2014.344,-12.55],[2014.354,-12.5],[2014.382,-12.25],[2014.39,-12.45],[2014.363,-13.4],
[2014.29,-14.35,-14.6,-14.85,-15.1,-15.3,-15.55,-15.85,-16],[2014.355,-14.3],[2014.35,-14.85,-15.2,-15.8],[2014.373,-15.35],[2014.446,-13.6,-14.25],[2014.49,-13.7,-12.95,-11.1,-11.6,-11.7,-12.15],[2014.523,-12.95],[2014.44,-14.85,-16.55,-16.85,-17.35,-17.6,-17.8,-18,-18.2,-18.4,-18.65,-18.9,-19.1,-19.3],[2014.517,-14.65],[2014.463,-15.55],[2014.446,-15.65],[2014.444,-16],[2014.366,-16.8],[2014.394,-16.9,-17.35,-17.55,-18,-18.7,-19.55,-20.7],[2014.478,-18.05],[2014.494,-18.05],[2014.36,-17.35,-17.85],[2014.353,-18.55],
[2014.286,-16.45,-16.75,-16.95,-17.15,-17.35,-17.6,-17.85],[2014.3,-17.5],[2014.28,-18.2,-19],[2014.293,-18.35],[2014.19,-18.7],[2014.153,-18.7,-19.05,-19.25],
[2014.433,-11.25,-11.75,-12.05,-12.3,-12.55],[2014.446,-11.5],[2014.46,-11.3],[2014.453,-12.65],[2014.504,-10.65],[2014.468,-9.1,-9.35],[2014.506,-7.15,-7.65,-7.85,-8.3,-8.6],[2014.497,-7.25],[2014.53,-8.9],[2014.513,-5,-5.35,-5.7,-5.9],[2014.527,-5.8,-6.05,-6.25],[2014.533,-6.55],
[2014.043,-19],[2014.146,-19.4],[2014.187,-18.85,-19,-19.2,-19.4,-19.75],[2014.207,-19.5],[2014.295,-19.5],[2014.332,-19.75],[2014.3,-20.4],[2014.283,-20.7],[2014.05,-20.7,-24.55],[2014.2,-20.6,-20.75,-21.3],[2014.208,-20.5,-20.7],[2014.297,-21.6],[2014.327,-22.1],[2014.08,-22.9],
[2014.047,-23.05,-23.2,-23.4],[2014.054,-23.9,-24.05],[2014.056,-25.15],[2014.158,-22.75],[2014.16,-23.15,-23.9],[2014.167,-24.75],[2014.17,-25.55,-25.7,-25.9,-26],[2014.165,-25.6,-25.75],[2014.18,-26.9],[2014.174,-27.3,-27.7],[2014.303,-25.8],
[2014.39,-18.95],[2014.413,-19.1,-19.45],[2014.382,-20.05],[2014.453,-18.9,-19.1,-19.3,-19.55],[2014.457,-19.95],[2014.5,-19.95],[2014.523,-20.1],[2014.504,-20.4,-20.9],[2014.46,-20.75,-20.95,-21.15,-22.1],[2014.463,-21.55],[2014.44,-21.6],[2014.453,-21.7],[2014.494,-22.15],[2014.51,-22.2,-22.3],[2014.525,-22.25],[2014.446,-22.5,-22.85]
];

var allStrands = [upper2010, upper2011, upper2012, upper2013, upper2014, lower2010, lower2011, lower2012, lower2013, lower2014];
var points = [];
allStrands.forEach(function (block) {
  block.forEach(function (row) {
    for (var i = 1; i < row.length; i++) points.push([row[0], row[i]]);
  });
});

var font = '"DejaVu Sans", sans-serif';
var chart = echarts.init(document.getElementById('c'), null, {renderer: 'canvas'});
chart.setOption({
  animation: false,
  backgroundColor: '#000',
  grid: {left: 7.4, top: 7, width: 1292.6, height: 1390, show: true, backgroundColor: '#fff', borderWidth: 0, containLabel: false, outerBoundsMode: 'none'},
  xAxis: {
    type: 'value', min: 2010, max: 2014.96, interval: 1,
    axisLine: {onZero: true, lineStyle: {color: '#000', width: 1}},
    axisTick: {show: false},
    axisLabel: {show: false},
    splitLine: {show: true, showMinLine: false, showMaxLine: false, lineStyle: {color: '#bdbdbd', width: 1}}
  },
  yAxis: {
    type: 'value', min: -40, max: 40, interval: 10,
    axisLine: {show: false}, axisTick: {show: false},
    axisLabel: {
      inside: true, margin: 83.6, align: 'right', verticalAlign: 'bottom', padding: [0, 0, 4, 0],
      color: '#000', fontFamily: font, fontWeight: 700, fontSize: 21,
      formatter: function (v) { return valueTicks.indexOf(v) >= 0 ? String(v) : ''; }
    },
    splitLine: {show: true, showMinLine: false, showMaxLine: false, lineStyle: {color: '#bdbdbd', width: 1}}
  },
  series: [{
    type: 'scatter',
    symbol: 'circle', symbolSize: 3.7,
    itemStyle: {color: '#000', opacity: 1},
    data: points,
    silent: true,
    markArea: {
      silent: true,
      itemStyle: {color: 'rgba(0,0,0,0.22)', borderWidth: 0},
      data: shadedSpans.map(function (s) { return [{xAxis: s[0]}, {xAxis: s[1]}]; })
    }
  }, {
    type: 'scatter',
    symbolSize: 0,
    silent: true,
    itemStyle: {opacity: 1},
    data: yearTicks.map(function (y) { return [y, 0]; }),
    label: {
      show: true, position: 'bottom', distance: 7,
      color: '#000', fontFamily: font, fontWeight: 700, fontSize: 21,
      formatter: function (p) { return String(p.value[0]); }
    }
  }]
});
</script></body></html>
